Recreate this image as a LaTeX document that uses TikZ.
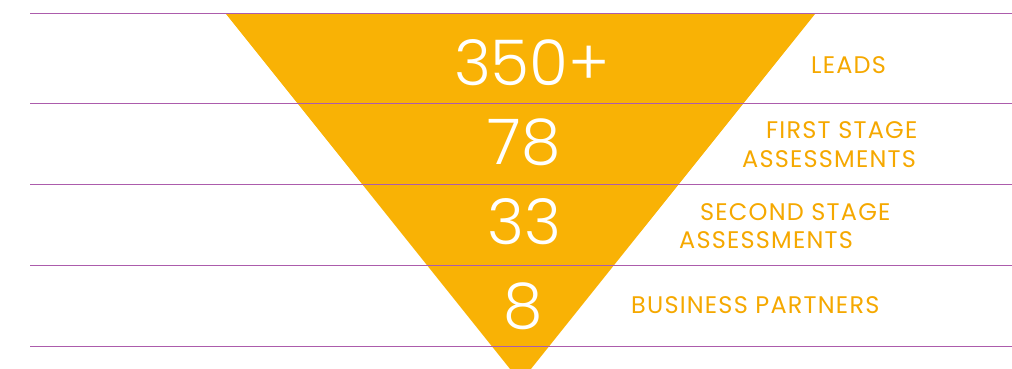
\documentclass[tikz,border=0pt]{standalone}
\usepackage{fontspec}
\setmainfont{Poppins}
\newfontfamily\countfont{Poppins Light}
\newfontfamily\stagefont[LetterSpace=5]{Poppins}
\usetikzlibrary{positioning}
\definecolor{FunnelGold}{RGB}{249,178,5}
\definecolor{LabelGold}{RGB}{245,168,0}
\definecolor{RulePurple}{RGB}{172,92,172}

\tikzset{
  count/.style={text=white, inner sep=0pt, font=\countfont\fontsize{63}{63}\selectfont},
  stage/.style={text=LabelGold, inner sep=0pt, anchor=base west, font=\stagefont\fontsize{24}{24}\selectfont}
}

\begin{document}
\begin{tikzpicture}[x=1pt,y=-1pt]
  \useasboundingbox (0,0) rectangle (1012,369);
  \clip (0,0) rectangle (1012,369);
  % funnel
  \fill[FunnelGold] (226,14) -- (815,14) -- (520.5,382) -- cycle;
  % rules
  \foreach \y in {14,103,184,265,346}
    \draw[RulePurple, line width=1pt] (30,\y) -- (1012,\y);
  % counts
  \node[count] (leads) at (532,63) {350+};
  \node[count] (first) at (524,142) {78};
  \node[count] (second) at (524,222) {33};
  \node[count] (partners) at (523,306) {8};
  % labels
  \node[stage] (leadslbl) at (811,74) {LEADS};
  \node[stage] (firstlbl) at (766,138) {FIRST STAGE};
  \node[stage] (firstlblb) at (742,167) {ASSESSMENTS};
  \node[stage] (secondlbl) at (700,220) {SECOND STAGE};
  \node[stage] (secondlblb) at (679,248) {ASSESSMENTS};
  \node[stage] (partnerslbl) at (631,313) {BUSINESS PARTNERS};
\end{tikzpicture}
\end{document}
